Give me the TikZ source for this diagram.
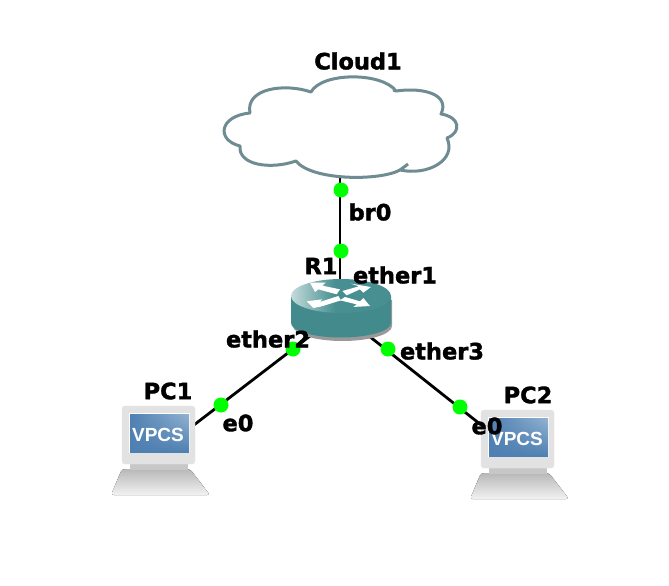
\documentclass[tikz,border=0pt]{standalone}
\usepackage{fontspec}
\setmainfont{DejaVu Sans}[BoldFeatures={FakeBold=1.6}]
\newfontfamily\vpcsfont{Liberation Sans}
\usetikzlibrary{arrows.meta,shadings}
\definecolor{cloudline}{HTML}{6F8C93}
\definecolor{routerbody}{HTML}{428A8C}
\definecolor{routerlight}{HTML}{C4DADA}
\definecolor{routertop}{HTML}{478F91}
\definecolor{screenblue}{HTML}{4F80B2}
\definecolor{screenlight}{HTML}{93B3D2}
\definecolor{casegrey}{HTML}{E2E2E2}
\definecolor{baseup}{HTML}{B8B8B8}
\definecolor{basedown}{HTML}{F2F2F2}
\pgfdeclarehorizontalshading{routershade}{100bp}{
  color(0bp)=(routerlight); color(25bp)=(routerlight); color(47bp)=(routertop); color(100bp)=(routertop)}
\tikzset{
  linkline/.style={line width=2.8pt, black},
  portdot/.style={circle, fill=green, inner sep=0pt, minimum size=15pt},
  devlabel/.style={font=\bfseries\fontsize{22.5}{24}\selectfont, inner sep=0pt},
  hub/.style={inner sep=0pt, minimum size=0pt},
  pics/vpcs/.style={code={
    % base and neck
    \fill[top color=baseup, bottom color=basedown, rounded corners=3pt] (-38,18) -- (30,18) -- (50,44) -- (-49,44) -- cycle;
    \fill[black!22] (-30,13) rectangle (28,19);
    % monitor
    \fill[casegrey, draw=black!10, rounded corners=3pt] (-38,-45) rectangle (35,13);
    \fill[white] (-31,-38) rectangle (30,2);
    \shade[upper right=screenlight, upper left=screenblue, lower left=screenblue, lower right=screenblue] (-30,-37) rectangle (29,1);
    \node[white, inner sep=0pt, font=\vpcsfont\bfseries\fontsize{19}{20}\selectfont] at (-2,-16) {VPCS};
  }}
}

\begin{document}
\begin{tikzpicture}[x=1pt, y=-1pt]
  \useasboundingbox (0,0) rectangle (669,586);
  \fill[white] (0,0) rectangle (669,586);
  % Anchors of the devices
  \node[hub] (cloud1) at (340,130) {};
  \node[hub] (r1) at (340,313) {};
  \node[hub] (pc1) at (160,451) {};
  \node[hub] (pc2) at (519,455) {};
  % Links
  \draw[linkline] (cloud1) -- (r1);
  \draw[linkline] (r1) -- (pc1);
  \draw[linkline] (r1) -- (pc2);
  % Cloud
  \draw[cloudline, fill=white, line width=3pt, line join=round]
    (311,92) .. controls (322,72) and (382,72) .. (396,91)
    .. controls (425,87) and (450,95) .. (441,114)
    .. controls (460,117) and (462,132) .. (447,138)
    .. controls (457,160) and (428,176) .. (400,170)
    .. controls (380,181) and (312,181) .. (296,161)
    .. controls (270,170) and (238,165) .. (240,146)
    .. controls (216,140) and (219,116) .. (250,113)
    .. controls (245,88) and (285,83) .. (311,92) -- cycle;
  \draw[cloudline, line width=3pt] (396,91) -- (393,90);
  \draw[cloudline, line width=3pt] (400,170) -- (408,164);
  % Router
  \fill[black!40] (293,300) -- (293,326) arc[start angle=180, end angle=360, x radius=49.5pt, y radius=15pt] -- (392,300) -- cycle;
  \fill[routerbody] (291,296) -- (291,323) arc[start angle=180, end angle=360, x radius=50pt, y radius=14.5pt] -- (391,296) -- cycle;
  \shade[shading=routershade] (341,296) ellipse[x radius=50pt, y radius=17pt];
  \begin{scope}[shift={(285,272)}, x=0.3333pt, y=-0.3333pt, white]
    \fill (75,32) -- (122,32) -- (112,41) -- (165,52) -- (155,67) -- (100,52) -- (90,60) -- cycle;
    \fill (172,57) -- (222,43) -- (198,35) -- (258,45) -- (235,62) -- (225,52) -- (185,70) -- cycle;
    \fill (65,88) -- (112,82) -- (104,90) -- (160,72) -- (168,85) -- (110,103) -- (85,108) -- cycle;
    \fill (165,85) -- (180,75) -- (225,88) -- (235,78) -- (255,102) -- (205,105) -- (215,97) -- cycle;
  \end{scope}
  % PCs
  \pic at (pc1) {vpcs};
  \pic at (pc2) {vpcs};
  % Ports
  \node[portdot] (brport) at (341,190) {};
  \node[portdot] (ether1port) at (341,251) {};
  \node[portdot] (ether2port) at (293,349) {};
  \node[portdot] (ether3port) at (388,349) {};
  \node[portdot] (pc1port) at (221,405) {};
  \node[portdot] (pc2port) at (460,407) {};
  % Labels
  \node[devlabel] (cloudlabel) at (358,61) {Cloud1};
  \node[devlabel] (brlabel) at (370,212) {br0};
  \node[devlabel] (r1label) at (321,266) {R1};
  \node[devlabel] (ether1label) at (395,275) {ether1};
  \node[devlabel] (ether2label) at (268,339) {ether2};
  \node[devlabel] (ether3label) at (442,351) {ether3};
  \node[devlabel] (pc1label) at (168,391) {PC1};
  \node[devlabel] (pc2label) at (528,395) {PC2};
  \node[devlabel] (pc1e0) at (238,423) {e0};
  \node[devlabel] (pc2e0) at (487,426) {e0};
\end{tikzpicture}
\end{document}
